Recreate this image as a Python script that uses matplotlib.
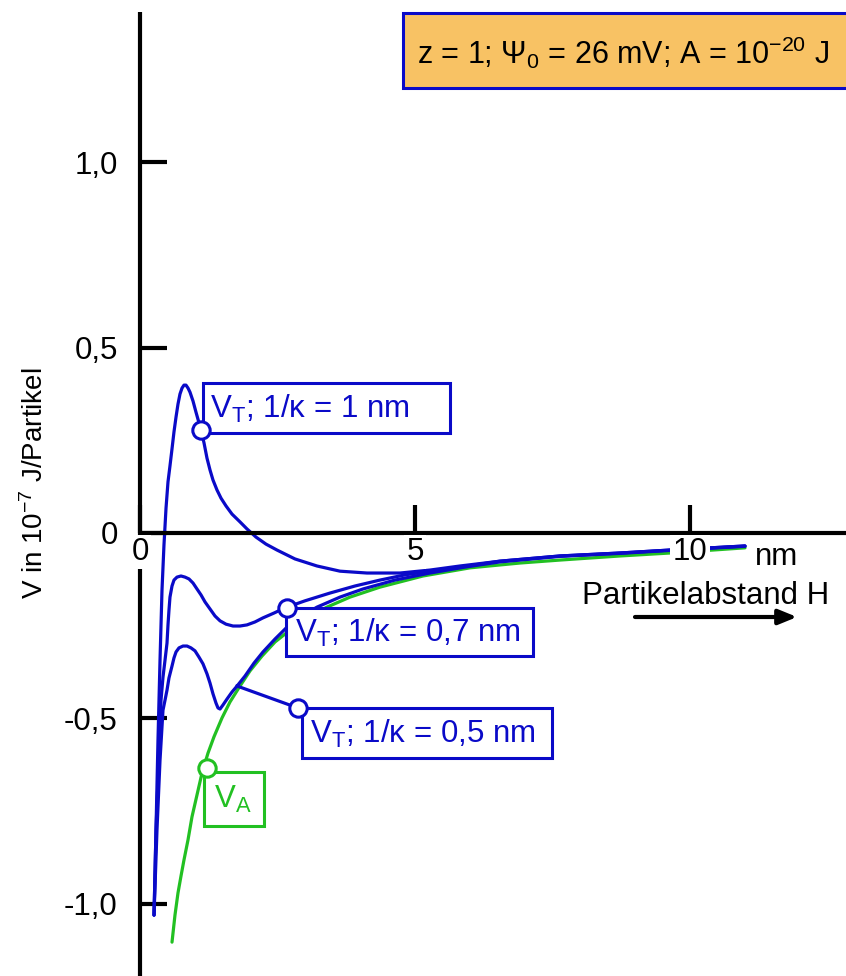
import matplotlib
matplotlib.use("Agg")
import matplotlib.pyplot as plt
from matplotlib.patches import Rectangle

plt.rcParams['font.family'] = ['Liberation Sans', 'DejaVu Sans']
plt.rcParams['mathtext.fontset'] = 'custom'
plt.rcParams['mathtext.rm'] = 'Liberation Sans'
plt.rcParams['mathtext.it'] = 'Liberation Sans'

# ---------------- data ----------------
# V_T, 1/kappa = 1 nm
h_k10 = [0.255, 0.291, 0.327, 0.364, 0.400, 0.436, 0.473, 0.509, 0.545, 0.582,
         0.618, 0.655, 0.691, 0.727, 0.764, 0.800, 0.836, 0.873, 0.909, 0.964,
         1.018, 1.073, 1.109, 1.164, 1.218, 1.273, 1.327, 1.400, 1.473, 1.564,
         1.673, 1.818, 1.945, 2.109, 2.291, 2.491, 2.818, 3.218, 3.636, 4.127,
         4.727, 5.273, 5.818, 6.545, 7.636, 8.727, 9.636, 11.0]
v_k10 = [-1.031, -0.801, -0.559, -0.343, -0.154, -0.032, 0.067, 0.138, 0.181, 0.227,
         0.273, 0.313, 0.348, 0.375, 0.391, 0.399, 0.399, 0.391, 0.380, 0.356,
         0.326, 0.297, 0.278, 0.243, 0.202, 0.170, 0.143, 0.116, 0.094, 0.073,
         0.051, 0.030, 0.011, -0.011, -0.030, -0.046, -0.070, -0.089, -0.103, -0.108,
         -0.108, -0.100, -0.089, -0.076, -0.062, -0.054, -0.046, -0.035]
# V_T, 1/kappa = 0.7 nm
h_k07 = [0.255, 0.291, 0.327, 0.382, 0.418, 0.455, 0.491, 0.509, 0.527, 0.545,
         0.582, 0.618, 0.673, 0.745, 0.818, 0.891, 0.964, 1.036, 1.109, 1.182,
         1.273, 1.364, 1.455, 1.564, 1.691, 1.818, 1.945, 2.091, 2.236, 2.436,
         2.636, 3.0, 3.455, 3.909, 4.364, 4.818, 5.273, 5.818, 6.545, 7.636,
         8.727, 9.636, 11.0]
v_k07 = [-1.031, -0.801, -0.666, -0.451, -0.389, -0.343, -0.297, -0.248, -0.208, -0.173,
         -0.143, -0.127, -0.119, -0.116, -0.119, -0.124, -0.135, -0.151, -0.167, -0.186,
         -0.205, -0.224, -0.237, -0.246, -0.251, -0.251, -0.248, -0.240, -0.229, -0.216,
         -0.202, -0.183, -0.162, -0.143, -0.127, -0.113, -0.103, -0.092, -0.076, -0.062,
         -0.054, -0.046, -0.035]
# V_T, 1/kappa = 0.5 nm
h_k05 = [0.255, 0.309, 0.364, 0.418, 0.455, 0.491, 0.527, 0.582, 0.618, 0.655,
         0.709, 0.782, 0.855, 0.927, 1.0, 1.073, 1.145, 1.218, 1.273, 1.327,
         1.382, 1.418, 1.455, 1.509, 1.582, 1.673, 1.764, 1.909, 2.073, 2.236,
         2.455, 2.673, 2.909, 3.218, 3.636, 4.055, 4.636, 5.273, 5.909, 6.545,
         7.636, 8.727, 9.636, 11.0]
v_k05 = [-1.031, -0.801, -0.613, -0.478, -0.451, -0.424, -0.391, -0.359, -0.337, -0.321,
         -0.310, -0.305, -0.305, -0.310, -0.318, -0.335, -0.353, -0.380, -0.405, -0.434,
         -0.459, -0.472, -0.475, -0.464, -0.448, -0.429, -0.413, -0.386, -0.351, -0.321,
         -0.286, -0.254, -0.227, -0.200, -0.173, -0.151, -0.127, -0.108, -0.092, -0.078,
         -0.063, -0.055, -0.047, -0.036]
# V_A (attraction)
h_va = [0.582, 0.636, 0.691, 0.745, 0.800, 0.873, 0.945, 1.036, 1.127, 1.236,
        1.345, 1.491, 1.636, 1.818, 2.0, 2.218, 2.455, 2.727, 3.036, 3.4,
        3.818, 4.364, 5.145, 6.0, 6.909, 7.636, 8.727, 9.636, 11.0]
v_va = [-1.104, -1.031, -0.971, -0.926, -0.882, -0.828, -0.766, -0.707, -0.648, -0.594,
        -0.550, -0.499, -0.456, -0.413, -0.372, -0.332, -0.294, -0.262, -0.229, -0.200,
        -0.173, -0.146, -0.116, -0.094, -0.081, -0.073, -0.062, -0.054, -0.040]

x_ticks = [0, 5, 10]
x_ticklabels = ['0', '5', '10']
y_ticks = [1.0, 0.5, 0.0, -0.5, -1.0]
y_ticklabels = ['1,0', '0,5', '0', '-0,5', '-1,0']

BLUE = '#0a0ac8'
GREEN = '#22c022'
ORANGE = '#f8c264'

W, H = 846, 976
fig = plt.figure(figsize=(W / 100, H / 100), dpi=100)
ax = fig.add_axes([140 / W, 0, 706 / W, 964 / H])
ax.set_xlim(0, 706 / 55.0)
ax.set_ylim(-(976 - 533) / 370.6, (533 - 12) / 370.6)

for s in ['top', 'right']:
    ax.spines[s].set_visible(False)
ax.spines['bottom'].set_position(('data', 0))
for s in ['left', 'bottom']:
    ax.spines[s].set_linewidth(3)
    ax.spines[s].set_capstyle('butt')

ax.set_xticks(x_ticks, x_ticklabels)
ax.set_yticks(y_ticks, y_ticklabels)
ax.tick_params(axis='x', direction='in', length=20, width=3, pad=3, labelsize=22.5)
ax.tick_params(axis='y', direction='in', length=19.5, width=3, pad=16, labelsize=22.5)
ax.xaxis.set_zorder(4)
for lab in ax.get_xticklabels():
    lab.set_bbox(dict(facecolor='white', edgecolor='none', pad=1.5))

lw = 2.3
kw = dict(lw=lw, solid_capstyle='round', solid_joinstyle='round')
ax.plot(h_va, v_va, color=GREEN, zorder=2, **kw)
ax.plot(h_k05, v_k05, color=BLUE, zorder=2.1, **kw)
ax.plot(h_k07, v_k07, color=BLUE, zorder=2.1, **kw)
ax.plot(h_k10, v_k10, color=BLUE, zorder=2.1, **kw)


def P(x, y):
    """figure pixel (from top-left) -> data coordinates"""
    return ax.transData.inverted().transform((x, H - y))


def box(x0, y0, x1, y1, ec, fc='white', z=3):
    (dx0, dy0), (dx1, dy1) = P(x0, y1), P(x1, y0)
    r = Rectangle((dx0, dy0), dx1 - dx0, dy1 - dy0, facecolor=fc, edgecolor=ec,
                  lw=2.2, zorder=z, clip_on=False)
    ax.add_patch(r)


def circle(x, y, ec):
    d = P(x, y)
    ax.plot([d[0]], [d[1]], 'o', ms=12.5, mfc='white', mec=ec, mew=2.2, zorder=5, clip_on=False)


def txt(x, y, s, color='black', size=22.5, **kw):
    d = P(x, y)
    ax.text(d[0], d[1], s, color=color, fontsize=size, va='baseline', ha='left', zorder=6, **kw)


# top parameter box
box(403, 13, 852, 88, BLUE, ORANGE)
txt(417, 64, r'z = 1; Ψ$_\mathregular{0}$ = 26 mV; A = 10$^\mathregular{-20}$ J', size=22)

# label boxes
box(203, 383, 450, 433, BLUE)
txt(210, 418, r'V$_\mathregular{T}$; 1/κ = 1 nm', BLUE)
circle(201, 430, BLUE)

box(286, 608, 533, 656, BLUE)
txt(295, 642, r'V$_\mathregular{T}$; 1/κ = 0,7 nm', BLUE)
circle(287, 608, BLUE)

box(302, 708, 552, 758, BLUE)
txt(310, 743, r'V$_\mathregular{T}$; 1/κ = 0,5 nm', BLUE)
a, b = P(237, 686), P(298, 708)
ax.plot([a[0], b[0]], [a[1], b[1]], color=BLUE, lw=2.3, zorder=4)
circle(298, 708, BLUE)

box(204, 772, 264, 826, GREEN)
txt(214, 808, r'V$_\mathregular{A}$', GREEN)
circle(207, 768, GREEN)

# axis texts
txt(755, 565, 'nm')
txt(582, 604, 'Partikelabstand H')
a, b = P(635, 617), P(797, 617)
ax.annotate('', xy=b, xytext=a,
            arrowprops=dict(arrowstyle='-|>,head_length=1.1,head_width=0.45', color='black',
                            lw=3, shrinkA=0, shrinkB=0), zorder=6)

fig.text(35 / W, 1 - 483 / H, r'V in 10$^\mathregular{-7}$ J/Partikel', rotation=90,
         fontsize=20, ha='center', va='center')

fig.savefig('out.png', dpi=100)
